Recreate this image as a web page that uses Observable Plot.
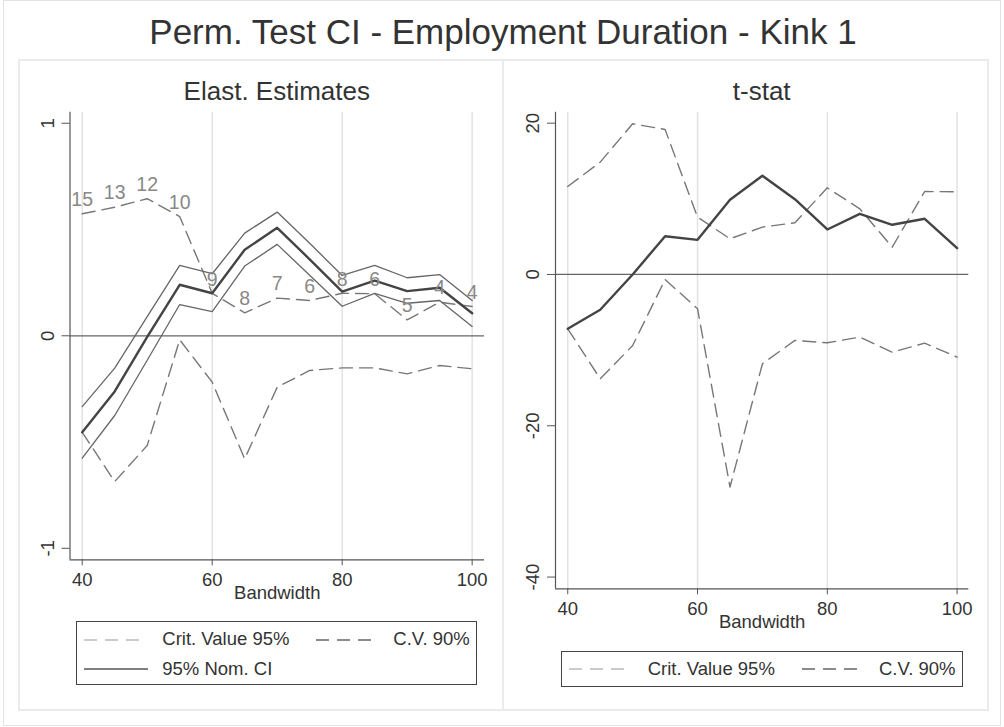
<!DOCTYPE html>
<html><head><meta charset="utf-8">
<script src="https://cdn.jsdelivr.net/npm/d3@7"></script>
<script src="https://cdn.jsdelivr.net/npm/@observablehq/plot@0.6"></script>
<style>
body{margin:0;background:#fff;}
#wrap{position:relative;width:1004px;height:727px;font-family:"Liberation Sans",Arial,Helvetica,sans-serif;color:#333;overflow:hidden;background:#fff;}
.abs{position:absolute;}
.txt{position:absolute;white-space:nowrap;}
</style></head><body><div id="wrap"></div>
<script>
// ---- data ----
const bandwidth = [40,45,50,55,60,65,70,75,80,85,90,95,100];
const xTicks = [40,60,80,100];
// Left panel: elasticity estimates
const elastEst   = [-0.454,-0.262,-0.005,0.24,0.20,0.405,0.508,0.36,0.208,0.26,0.21,0.226,0.106];
const ciUpper    = [-0.333,-0.152,0.09,0.331,0.292,0.483,0.582,0.435,0.284,0.331,0.273,0.288,0.166];
const ciLower    = [-0.576,-0.375,-0.115,0.147,0.114,0.328,0.43,0.285,0.139,0.20,0.153,0.166,0.044];
const critUpper  = [0.574,0.605,0.645,0.561,0.20,0.108,0.177,0.166,0.20,0.198,0.075,0.158,0.138];
const critLower  = [-0.454,-0.686,-0.516,-0.019,-0.218,-0.579,-0.242,-0.163,-0.151,-0.151,-0.179,-0.14,-0.155];
const counts     = [15,13,12,10,9,8,7,6,8,6,5,4,4];
const leftYTicks = [-1,0,1];
// Right panel: t-stat
const tStat      = [-7.18,-4.67,0,5.06,4.58,9.87,13.04,9.95,5.95,8.02,6.57,7.36,3.48];
const tCritUpper = [11.63,14.85,19.92,19.17,7.58,4.72,6.26,6.83,11.46,8.68,3.61,10.97,10.92];
const tCritLower = [-7.18,-13.79,-9.39,-0.66,-4.54,-28.1,-11.8,-8.72,-9.03,-8.28,-10.27,-9.08,-10.93];
const rightYTicks = [-40,-20,0,20];

const mainTitle = "Perm. Test CI - Employment Duration - Kink 1";
const panelTitles = ["Elast. Estimates", "t-stat"];
const xLabel = "Bandwidth";
const legendLabels = ["Crit. Value 95%", "C.V. 90%", "95% Nom. CI"];

// ---- helpers ----
const wrap = document.getElementById("wrap");
const FONT = '"Liberation Sans",Arial,Helvetica,sans-serif';
function text(str, x, baseline, size, anchor, color) {
  const d = document.createElement("div");
  d.className = "txt";
  d.textContent = str;
  d.style.fontSize = size + "px";
  d.style.lineHeight = size + "px";
  d.style.top = (baseline - 0.8465 * size) + "px";
  d.style.left = x + "px";
  if (color) d.style.color = color;
  if (anchor === "middle") d.style.transform = "translateX(-50%)";
  wrap.appendChild(d);
}
function box(l, t, r, b, border) {
  const d = document.createElement("div");
  d.className = "abs";
  d.style.left = l + "px"; d.style.top = t + "px";
  d.style.width = (r - l) + "px"; d.style.height = (b - t) + "px";
  d.style.border = border; d.style.boxSizing = "border-box";
  wrap.appendChild(d);
}
function sample(x1, x2, y, stroke, width, dash) {
  const ns = "http://www.w3.org/2000/svg";
  const s = document.createElementNS(ns, "svg");
  s.setAttribute("width", x2 - x1); s.setAttribute("height", 10);
  s.style.position = "absolute"; s.style.left = x1 + "px"; s.style.top = (y - 5) + "px";
  const l = document.createElementNS(ns, "line");
  l.setAttribute("x1", 0); l.setAttribute("x2", x2 - x1);
  l.setAttribute("y1", 5); l.setAttribute("y2", 5);
  l.setAttribute("stroke", stroke); l.setAttribute("stroke-width", width);
  if (dash) l.setAttribute("stroke-dasharray", dash);
  s.appendChild(l);
  wrap.appendChild(s);
}
function place(el, l, t) {
  el.style.position = "absolute"; el.style.left = l + "px"; el.style.top = t + "px";
  wrap.appendChild(el);
}

// ---- frames ----
box(3, 0, 1001, 726, "1px solid #e3e3e3");
box(18, 59, 504, 711, "2px solid #ebebeb");
box(502, 59, 989, 711, "2px solid #ebebeb");

const idx = bandwidth.map((_, i) => i);
const styleObj = {background: "transparent", fontFamily: FONT, fontSize: "18.5px", color: "#333", overflow: "visible"};
const DASH = "13,7";

function panel({width, height, mL, mR, mT, mB, xDom, yDom, yTicks, tickPad, lines, extra}) {
  return Plot.plot({
    width, height, marginLeft: mL, marginRight: mR, marginTop: mT, marginBottom: mB,
    x: {domain: xDom}, y: {domain: yDom},
    style: styleObj,
    marks: [
      Plot.ruleX(xTicks, {stroke: "#e3e3e3", strokeWidth: 1.5}),
      Plot.ruleY([0], {stroke: "#666", strokeWidth: 1.2}),
      Plot.ruleX([xDom[0]], {stroke: "#555", strokeWidth: 1.2}),
      Plot.ruleY([yDom[0]], {stroke: "#555", strokeWidth: 1.2}),
      Plot.axisX({ticks: xTicks, tickSize: 6, tickPadding: 6.6, fontSize: 18.5, label: null, stroke: "#555", tickFormat: d => String(d)}),
      Plot.axisY({ticks: yTicks, tickSize: 8, tickPadding: tickPad, tickRotate: -90, textAnchor: "middle", lineAnchor: "bottom", fontSize: 18.5, label: null, stroke: "#555", tickFormat: d => String(d)}),
      Plot.text([xLabel], {text: d => d, frameAnchor: "bottom", dy: 39.5, fontSize: 18.5, fill: "#333"}),
      ...lines,
      ...(extra || [])
    ]
  });
}

const left = panel({
  width: 485, height: 520, mL: 51.5, mR: 19, mT: 11.7, mB: 60.7,
  xDom: [38.12, 101.9], yDom: [-1.054, 1.052], yTicks: leftYTicks, tickPad: 8,
  lines: [
    Plot.line(idx, {x: i => bandwidth[i], y: i => critLower[i], stroke: "#777", strokeWidth: 1.4, strokeDasharray: DASH}),
    Plot.line(idx, {x: i => bandwidth[i], y: i => critUpper[i], stroke: "#777", strokeWidth: 1.4, strokeDasharray: DASH}),
    Plot.line(idx, {x: i => bandwidth[i], y: i => ciUpper[i], stroke: "#666", strokeWidth: 1.3}),
    Plot.line(idx, {x: i => bandwidth[i], y: i => ciLower[i], stroke: "#666", strokeWidth: 1.3}),
    Plot.line(idx, {x: i => bandwidth[i], y: i => elastEst[i], stroke: "#444", strokeWidth: 2.4})
  ],
  extra: [
    Plot.text(idx, {x: i => bandwidth[i], y: i => critUpper[i], text: i => String(counts[i]), dy: -14, fill: "#888", fontSize: 19.5})
  ]
});
place(left, 18, 100);

const right = panel({
  width: 485, height: 545, mL: 52, mR: 19.7, mT: 11.7, mB: 56.7,
  xDom: [38.11, 101.8], yDom: [-41.55, 21.45], yTicks: rightYTicks, tickPad: 9,
  lines: [
    Plot.line(idx, {x: i => bandwidth[i], y: i => tCritLower[i], stroke: "#777", strokeWidth: 1.4, strokeDasharray: DASH}),
    Plot.line(idx, {x: i => bandwidth[i], y: i => tCritUpper[i], stroke: "#777", strokeWidth: 1.4, strokeDasharray: DASH}),
    Plot.line(idx, {x: i => bandwidth[i], y: i => tStat[i], stroke: "#444", strokeWidth: 2.4})
  ]
});
place(right, 503, 100);

// ---- titles ----
text(mainTitle, 503, 43.3, 35, "middle");
text(panelTitles[0], 276.8, 100, 26, "middle");
text(panelTitles[1], 761.7, 100, 26, "middle");

// ---- legends ----
box(75.7, 621, 477.3, 685.3, "1px solid #444");
sample(84.3, 146, 640, "#bbb", 1.4, "13,8");
text(legendLabels[0], 162.3, 646, 18.5);
sample(316, 374, 640, "#666", 1.4, "13,8");
text(legendLabels[1], 393.3, 646, 18.5);
sample(84.3, 148.3, 669.3, "#555", 1.4, null);
text(legendLabels[2], 162.3, 675.7, 18.5);

box(561, 650.7, 962.7, 686.7, "1px solid #444");
sample(569, 627.7, 669.3, "#bbb", 1.4, "13,8");
text(legendLabels[0], 647.7, 675.7, 18.5);
sample(801.7, 860.7, 669.3, "#666", 1.4, "13,8");
text(legendLabels[1], 879, 675.7, 18.5);
</script>
</body></html>
